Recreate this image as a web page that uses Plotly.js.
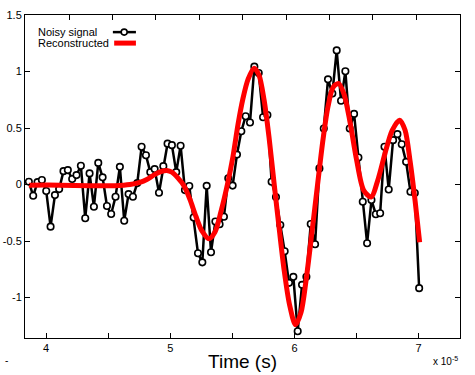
<!DOCTYPE html>
<html>
<head>
<meta charset="utf-8">
<script src="https://cdn.plot.ly/plotly-3.0.1.min.js"></script>
<style>
  html, body { margin: 0; padding: 0; background: #fff; }
  #myPlot { width: 475px; height: 375px; }
</style>
</head>
<body>
<div id="myPlot"></div>
<script>
// time in units of 1e-5 s
const noisyTime = [
  3.861, 3.896, 3.931, 3.966, 4.001, 4.036, 4.071, 4.105, 4.140, 4.175,
  4.210, 4.245, 4.280, 4.315, 4.350, 4.385, 4.420, 4.455, 4.490, 4.524,
  4.559, 4.594, 4.629, 4.664, 4.699, 4.734, 4.769, 4.804, 4.839, 4.874,
  4.909, 4.944, 4.978, 5.013, 5.048, 5.083, 5.118, 5.153, 5.188, 5.223,
  5.258, 5.293, 5.328, 5.363, 5.397, 5.432, 5.467, 5.502, 5.537, 5.572,
  5.607, 5.642, 5.677, 5.712, 5.747, 5.782, 5.816, 5.851, 5.886, 5.921,
  5.956, 5.991, 6.026, 6.061, 6.096, 6.131, 6.166, 6.201, 6.236, 6.270,
  6.305, 6.340, 6.375, 6.410, 6.445, 6.480, 6.515, 6.550, 6.585, 6.620,
  6.655, 6.690, 6.725, 6.759, 6.794, 6.829, 6.864, 6.899, 6.934, 6.969,
  7.004
];
const noisySignal = [
  0.025, -0.099, 0.022, 0.040, -0.057, -0.372, -0.093, -0.040, 0.119, 0.128,
  0.049, 0.084, 0.166, -0.298, 0.099, -0.196, 0.192, 0.064, -0.190, -0.260,
  -0.108, 0.157, -0.320, -0.084, -0.108, 0.013, 0.334, 0.260, 0.110, 0.137,
  -0.072, 0.163, 0.362, 0.349, 0.110, 0.344, -0.049, -0.013, -0.291, -0.607,
  -0.688, -0.011, -0.598, -0.327, -0.351, -0.284, 0.055, -0.009, 0.265, 0.472,
  0.605, 0.549, 1.043, 0.987, 0.596, 0.615, 0.025, -0.110, -0.357, -0.590,
  -0.869, -0.816, -1.297, -0.887, -0.816, -0.349, -0.528, 0.143, 0.496, 0.931,
  0.805, 1.187, 0.741, 1.002, 0.496, 0.625, 0.240, -0.152, -0.519, -0.137,
  -0.262, -0.254, 0.334, -0.044, 0.393, 0.446, 0.357, 0.201, -0.064, -0.075,
  -0.916
];

const reconTime = [
  3.861, 4.111, 4.352, 4.554, 4.675, 4.755, 4.811, 4.876, 4.932, 4.972,
  5.013, 5.061, 5.110, 5.158, 5.206, 5.255, 5.311, 5.360, 5.408, 5.460,
  5.505, 5.545, 5.585, 5.626, 5.674, 5.714, 5.755, 5.795, 5.835, 5.876,
  5.916, 5.960, 6.008, 6.053, 6.093, 6.141, 6.186, 6.230, 6.270, 6.311,
  6.355, 6.399, 6.448, 6.500, 6.557, 6.617, 6.674, 6.730, 6.787, 6.847,
  6.891, 6.932, 6.972, 7.008
];
const reconSignal = [
  -0.005, -0.005, -0.010, -0.010, 0.000, 0.020, 0.045, 0.090, 0.118, 0.125,
  0.110, 0.060, -0.010, -0.130, -0.280, -0.410, -0.480, -0.420, -0.240, 0.000,
  0.250, 0.530, 0.760, 0.930, 1.030, 0.970, 0.750, 0.420, 0.020, -0.380,
  -0.750, -1.060, -1.240, -1.130, -0.850, -0.420, 0.000, 0.400, 0.690, 0.860,
  0.895, 0.800, 0.550, 0.220, -0.050, -0.110, 0.050, 0.280, 0.480, 0.570,
  0.480, 0.200, -0.150, -0.510
];

const xTickVals = [4, 5, 6, 7];
const xTickText = ["4", "5", "6", "7"];
const topTickVals = [4.185, 4.534, 4.884, 5.233, 5.582, 5.932, 6.281, 6.630, 6.979];
const yTickVals = [-1, -0.5, 0, 0.5, 1, 1.5];
const yTickText = ["-1", "-0.5", "0", "0.5", "1", "1.5"];

const font = "Liberation Sans, Arial, sans-serif";

const data = [
  {
    x: noisyTime,
    y: noisySignal,
    name: "Noisy signal",
    type: "scatter",
    mode: "lines+markers",
    line: { color: "black", width: 2.5 },
    marker: { symbol: "circle", size: 6.5, color: "white", line: { color: "black", width: 1.6 } },
    showlegend: false,
  },
  {
    x: reconTime,
    y: reconSignal,
    name: "Reconstructed",
    type: "scatter",
    mode: "lines",
    line: { color: "#ff0000", width: 5, shape: "spline", smoothing: 0.8 },
    showlegend: false,
  },
];

const layout = {
  width: 475,
  height: 375,
  margin: { l: 25, r: 15, t: 15, b: 37 },
  paper_bgcolor: "white",
  plot_bgcolor: "white",
  font: { family: font, size: 11, color: "black" },
  showlegend: false,
  xaxis: {
    range: [3.83, 7.333],
    tickvals: xTickVals,
    ticktext: xTickText,
    ticks: "inside",
    ticklen: 5,
    tickcolor: "black",
    minor: { tick0: 4, dtick: 0.5, ticks: "inside", ticklen: 5, tickcolor: "black", showgrid: false },
    showgrid: false,
    zeroline: false,
    showline: true,
    linecolor: "black",
    linewidth: 1,
    mirror: true,
    tickfont: { family: font, size: 11 },
    title: { text: "Time (s)", font: { family: font, size: 19 }, standoff: 1 },
  },
  xaxis2: {
    range: [3.83, 7.333],
    overlaying: "x",
    side: "top",
    anchor: "y",
    tickvals: topTickVals,
    showticklabels: false,
    ticks: "inside",
    ticklen: 5,
    tickcolor: "black",
    showgrid: false,
    zeroline: false,
    showline: false,
  },
  yaxis: {
    range: [-1.357, 1.5],
    tickvals: yTickVals,
    ticktext: yTickText,
    ticks: "inside",
    ticklen: 5,
    tickcolor: "black",
    showgrid: false,
    zeroline: false,
    showline: true,
    linecolor: "black",
    linewidth: 1,
    mirror: "ticks",
    tickfont: { family: font, size: 11 },
  },
  annotations: [
    { text: "Noisy signal", xref: "paper", yref: "paper", x: 0.025, y: 0.947,
      xanchor: "left", yanchor: "middle", showarrow: false, font: { size: 11 } },
    { text: "Reconstructed", xref: "paper", yref: "paper", x: 0.025, y: 0.913,
      xanchor: "left", yanchor: "middle", showarrow: false, font: { size: 11 } },
    { text: "x 10<sup>-5</sup>", xref: "paper", yref: "paper", x: 1.0, y: -0.045,
      xanchor: "right", yanchor: "top", showarrow: false, font: { size: 10 } },
    { text: "-", xref: "paper", yref: "paper", x: -0.05, y: -0.045,
      xanchor: "left", yanchor: "top", showarrow: false, font: { size: 10 } },
  ],
  shapes: [
    // legend samples
    { type: "line", xref: "paper", yref: "paper", x0: 0.202, x1: 0.255, y0: 0.947, y1: 0.947,
      line: { color: "black", width: 2.5 } },
    { type: "circle", xref: "paper", yref: "paper", xsizemode: "pixel", ysizemode: "pixel",
      xanchor: 0.228, yanchor: 0.947, x0: -3, x1: 3, y0: -3, y1: 3,
      fillcolor: "white", line: { color: "black", width: 1.6 } },
    { type: "line", xref: "paper", yref: "paper", x0: 0.205, x1: 0.255, y0: 0.913, y1: 0.913,
      line: { color: "#ff0000", width: 5 } },
  ],
};

// need something on x2 so the top ticks get drawn
data.push({ x: [], y: [], xaxis: "x2", yaxis: "y", showlegend: false, hoverinfo: "skip" });

Plotly.newPlot("myPlot", data, layout, { staticPlot: true });
</script>
</body>
</html>
